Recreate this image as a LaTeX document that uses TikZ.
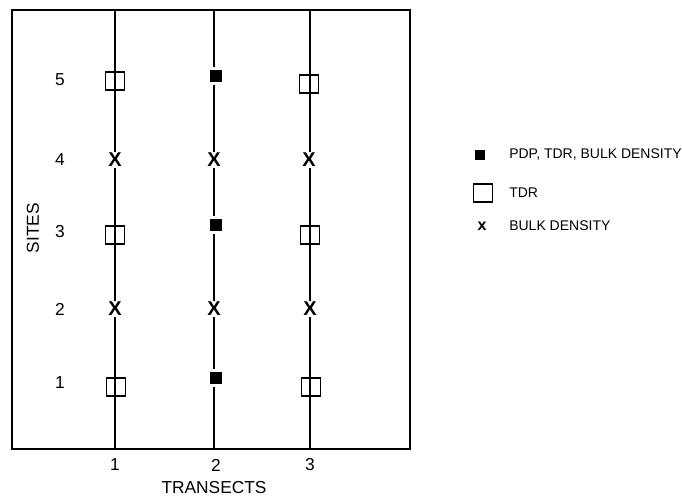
\documentclass[tikz,border=0pt]{standalone}
\usepackage{fontspec}
\setmainfont{Liberation Sans}
\begin{document}
\begin{tikzpicture}[x=0.75pt,y=-0.75pt,
  every node/.style={font=\fontsize{13}{14}\selectfont},
  frame/.style={line width=1.3pt},
  tline/.style={line width=1.1pt},
  osq/.style={draw,line width=0.9pt,minimum width=14.25pt,minimum height=13.5pt,inner sep=0pt},
  fsq/.style={fill=black,minimum size=8.5pt,inner sep=0pt,preaction={draw=white,line width=4.5pt}},
  xmark/.style={fill=white,inner sep=0.6pt,font=\fontsize{15}{16}\selectfont\bfseries},
  lbl/.style={inner sep=0pt},
  legtext/.style={inner sep=0pt,anchor=west,font=\fontsize{10.5}{12}\selectfont}]
\useasboundingbox (0,0) rectangle (682,498);
\fill[white] (0,0) rectangle (682,498);
\draw[frame] (12,10) rectangle (410,449);
% transect lines
\foreach \n/\x in {1/115,2/214,3/310}{
  \coordinate (t\n top) at (\x,10);
  \coordinate (t\n bot) at (\x,449);
  \draw[tline] (t\n top) -- (t\n bot);
}
% transect 1
\node[osq] (a5) at (115,81) {};
\node[xmark] (a4) at (115,160) {X};
\node[osq] (a3) at (115,235) {};
\node[xmark] (a2) at (115,309) {X};
\node[osq] (a1) at (116,387) {};
% transect 2
\node[fsq] (b5) at (216,76) {};
\node[xmark] (b4) at (214,160) {X};
\node[fsq] (b3) at (216,225) {};
\node[xmark] (b2) at (214,309) {X};
\node[fsq] (b1) at (216,378) {};
% transect 3
\node[osq] (c5) at (309,84) {};
\node[xmark] (c4) at (309,160) {X};
\node[osq] (c3) at (310,235) {};
\node[xmark] (c2) at (310,309) {X};
\node[osq] (c1) at (311,387) {};
% site labels
\foreach \s/\y in {5/80,4/160,3/232,2/309,1/383}{
  \node[lbl] (s\s) at (60,\y) {\s};
}
\node[lbl,rotate=90] (sites) at (33,228) {SITES};
% transect labels
\node[lbl] (n1) at (115,465) {1};
\node[lbl] (n2) at (216,465) {2};
\node[lbl] (n3) at (310,465) {3};
\node[lbl] (trans) at (214,488) {TRANSECTS};
% legend
\node[fill=black,minimum size=7.3pt,inner sep=0pt] (lf) at (480,155) {};
\node[legtext] (lft) at (509,155) {PDP, TDR, BULK DENSITY};
\node[osq] (lo) at (483,193) {};
\node[legtext] (lot) at (509,193) {TDR};
\node[inner sep=0pt,font=\fontsize{12}{12}\selectfont\bfseries] (lx) at (482,226) {x};
\node[legtext] (lxt) at (509,226) {BULK DENSITY};
\end{tikzpicture}
\end{document}
